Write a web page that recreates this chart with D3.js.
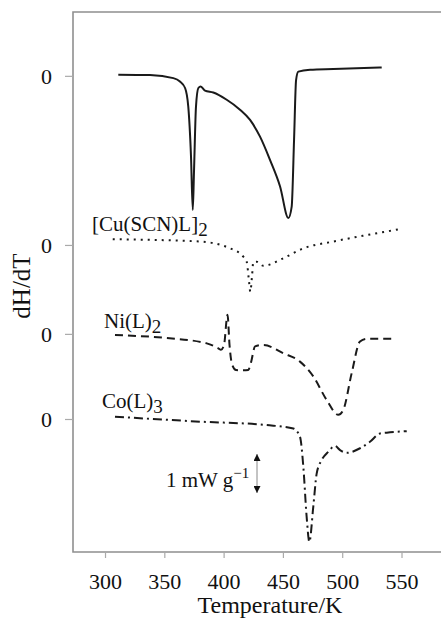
<!DOCTYPE html>
<html>
<head>
<meta charset="utf-8">
<script src="https://cdn.jsdelivr.net/npm/d3@7"></script>
<style>
  html, body { margin: 0; padding: 0; background: #fff; }
  svg { display: block; }
  text { font-family: "Liberation Serif", "Times New Roman", serif; fill: #111; }
</style>
</head>
<body>
<div class="myChart"></div>
<script>
var width = 441, height = 618;

// temperature (K) and dH/dT (mW g-1) for each trace
var tempL   = [311.2, 337.9, 357.6, 363.2, 367.5, 370.2, 372.5, 374.0, 375.0, 376.7, 378.7, 380.7, 384.3, 391.3, 402.6, 413.8, 422.3, 430.7, 439.1, 447.6, 454.6, 457.4, 459.4, 461.1, 463.0, 472.9, 492.5, 533.3];
var valL    = [0.03, 0.02, -0.06, -0.15, -0.32, -0.81, -2.12, -3.53, -2.55, -0.81, -0.32, -0.28, -0.39, -0.44, -0.63, -0.89, -1.16, -1.60, -2.21, -2.91, -3.74, -3.44, -1.68, -0.11, 0.11, 0.16, 0.18, 0.22];

var tempCu  = [306.5, 380.1, 405.4, 416.6, 419.5, 421.4, 422.5, 424.0, 425.0, 427.9, 433.5, 450.3, 467.2, 492.5, 520.7, 547.3];
var valCu   = [0.15, 0.09, -0.09, -0.31, -0.45, -0.95, -1.23, -0.80, -0.45, -0.44, -0.55, -0.35, -0.09, 0.09, 0.26, 0.41];

var tempNi  = [308.4, 352.0, 385.8, 395.5, 397.8, 400.3, 403.3, 405.0, 407.1, 410.5, 416.6, 420.8, 423.1, 426.5, 433.5, 450.3, 464.4, 475.6, 486.9, 496.7, 500.9, 508.0, 515.0, 520.7, 543.1];
var valNi   = [-0.03, -0.11, -0.25, -0.38, -0.42, -0.30, 0.50, -0.30, -0.80, -0.95, -0.96, -0.95, -0.75, -0.33, -0.29, -0.51, -0.73, -1.12, -1.74, -2.13, -2.00, -1.03, -0.20, -0.13, -0.13];

var tempCo  = [308.4, 380.1, 436.3, 458.8, 464.4, 467.2, 470.0, 472.3, 475.6, 478.5, 482.7, 488.3, 493.9, 498.2, 503.8, 515.0, 523.4, 531.9, 537.5, 554.4];
var valCo   = [0.06, -0.07, -0.16, -0.25, -0.47, -1.25, -2.57, -3.23, -2.31, -1.43, -1.08, -0.86, -0.71, -0.82, -0.89, -0.77, -0.60, -0.38, -0.36, -0.32];

// vertical offsets of each trace's zero line (mW g-1)
var offsets   = [9.03, 4.58, 2.24, 0];
var xTicks    = [300, 350, 400, 450, 500, 550];

var svg = d3.select(".myChart").append("svg")
    .attr("width", width)
    .attr("height", height);

var mLeft = 73, mRight = 441, mTop = 12, mBottom = 552;

var x = d3.scaleLinear().domain([273, 583.3]).range([mLeft, mRight]);
var y = d3.scaleLinear().domain([-3.5, 10.71]).range([mBottom, mTop]);

// frame (open on the right, as in the picture)
var axisColor = "#8f8f8f";
svg.append("path")
    .attr("d", `M${mRight},${mTop}H${mLeft}V${mBottom}H${mRight}`)
    .attr("fill", "none")
    .attr("stroke", axisColor)
    .attr("stroke-width", 1.6);

// x axis
var xAxis = svg.append("g")
    .attr("transform", `translate(0,${mBottom})`)
    .call(d3.axisBottom(x).tickValues(xTicks).tickSize(6).tickPadding(0));
xAxis.select(".domain").remove();
xAxis.selectAll("line").attr("stroke", "#aaa").attr("stroke-width", 1.2);
xAxis.selectAll("text")
    .attr("y", 37).attr("dy", 0)
    .attr("fill", "#111")
    .style("font-family", '"Liberation Serif", serif')
    .style("font-size", "22px");

// y axis: one "0" for each trace
var yAxis = svg.append("g")
    .attr("transform", `translate(${mLeft},0)`)
    .call(d3.axisLeft(y).tickValues(offsets).tickFormat(() => "0").tickSize(8).tickPadding(13));
yAxis.select(".domain").remove();
yAxis.selectAll("line").attr("stroke", "#aaa").attr("stroke-width", 1.2);
yAxis.selectAll("text")
    .attr("dy", "0.34em")
    .attr("fill", "#111")
    .style("font-family", '"Liberation Serif", serif')
    .style("font-size", "22px");

// axis titles
svg.append("text")
    .attr("x", 270).attr("y", 613)
    .attr("text-anchor", "middle")
    .attr("font-size", 24)
    .text("Temperature/K");

svg.append("text")
    .attr("transform", "translate(30,286) rotate(-90)")
    .attr("text-anchor", "middle")
    .attr("font-size", 25)
    .text("dH/dT");

// traces
var series = [
    { t: tempL,  v: valL,  off: offsets[0], dash: null,       w: 2.0 },
    { t: tempCu, v: valCu, off: offsets[1], dash: "2,5",      w: 2.0 },
    { t: tempNi, v: valNi, off: offsets[2], dash: "8,5",      w: 2.0 },
    { t: tempCo, v: valCo, off: offsets[3], dash: "9,4,2,4",  w: 2.0 }
];

var line = d3.line().curve(d3.curveMonotoneX);

series.forEach(s => {
    var pts = s.t.map((t, i) => [x(t), y(s.v[i] + s.off)]);
    svg.append("path")
        .attr("d", line(pts))
        .attr("fill", "none")
        .attr("stroke", "#1a1a1a")
        .attr("stroke-width", s.w)
        .attr("stroke-dasharray", s.dash);
});

// trace labels with subscripts
function label(xp, yp, main, sub) {
    var t = svg.append("text").attr("x", xp).attr("y", yp).attr("font-size", 21);
    t.append("tspan").text(main);
    t.append("tspan").attr("dy", 5).attr("font-size", 19).text(sub);
}
label(92, 231, "[Cu(SCN)L]", "2");
label(104, 328, "Ni(L)", "2");
label(102, 408, "Co(L)", "3");

// scale bar: 1 mW g-1
var sbX = 257;
svg.append("defs").append("marker")
    .attr("id", "arrowhead")
    .attr("viewBox", "0 -5 10 10")
    .attr("refX", 10).attr("refY", 0)
    .attr("markerWidth", 7).attr("markerHeight", 7)
    .attr("markerUnits", "userSpaceOnUse")
    .attr("orient", "auto")
    .append("path")
    .attr("d", "M0,-5L10,0L0,5Z")
    .attr("fill", "#111");

var sbMid = 474;
svg.append("line")
    .attr("x1", sbX).attr("x2", sbX)
    .attr("y1", sbMid).attr("y2", 454)
    .attr("stroke", "#888").attr("stroke-width", 1)
    .attr("marker-end", "url(#arrowhead)");
svg.append("line")
    .attr("x1", sbX).attr("x2", sbX)
    .attr("y1", sbMid).attr("y2", 493)
    .attr("stroke", "#888").attr("stroke-width", 1)
    .attr("marker-end", "url(#arrowhead)");

var sb = svg.append("text").attr("x", 166).attr("y", 487).attr("font-size", 21);
sb.append("tspan").text("1 mW g");
sb.append("tspan").attr("dy", -9).attr("font-size", 15).text("\u22121");
</script>
</body>
</html>
